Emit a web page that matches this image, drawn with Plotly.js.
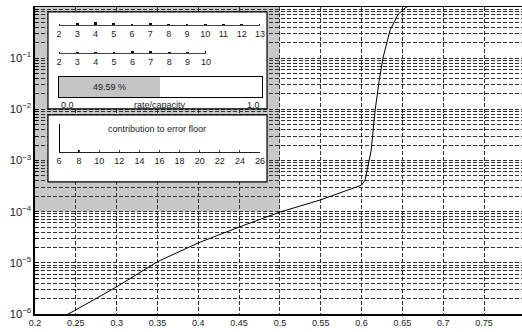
<!DOCTYPE html>
<html>
<head>
<meta charset="utf-8">
<script src="https://cdn.plot.ly/plotly-3.0.1.min.js"></script>
<style>
html,body{margin:0;padding:0;background:#fff;overflow:hidden;}
#chart{width:522px;height:332px;}
</style>
</head>
<body>
<div id="chart"></div>
<script>
// Main curve: error rate vs rate
const rate = [0.2404, 0.25, 0.3, 0.35, 0.4, 0.45, 0.5, 0.55, 0.6, 0.6044, 0.6081, 0.6118, 0.6167, 0.6216, 0.6265, 0.635, 0.6449, 0.6534, 0.66];
const errorRate = [1e-6, 1.2e-6, 3.4e-6, 1.05e-5, 2.45e-5, 5.0e-5, 9.8e-5, 1.7e-4, 3.3e-4, 4.2e-4, 8.1e-4, 1.6e-3, 9.8e-3, 3.7e-2, 0.105, 0.355, 0.72, 0.95, 1.1];

// Inset: degree distributions
const degA = [2, 3, 4, 5, 6, 7, 8, 9, 10, 11, 12, 13];
const fracA = [0.15, 0.35, 0.4, 0.25, 0.1, 0.3, 0.08, 0.1, 0.08, 0.08, 0.08, 0.08];
const degB = [2, 3, 4, 5, 6, 7, 8, 9, 10];
const fracB = [0.15, 0.15, 0.2, 0.15, 0.35, 0.35, 0.08, 0.15, 0.3];

// Inset: rate/capacity bar
const rateShare = [0.4959];
const rateShareLabel = '49.59 %';
const rateAxisLabels = ['0.0', 'rate/capacity', '1.0'];

// Inset: contribution to error floor
const floorDeg = [6, 8];
const floorContrib = [1.0, 0.06];
const floorTicks = [6, 8, 10, 12, 14, 16, 18, 20, 22, 24, 26];

// Main axis ticks
const xTicks = [0.2, 0.25, 0.3, 0.35, 0.4, 0.45, 0.5, 0.55, 0.6, 0.65, 0.7, 0.75];

const FONT = {family: 'Liberation Sans, Arial, sans-serif', size: 9, color: '#222'};
const GRID = '#333';

const traces = [
  {x: rate, y: errorRate, type: 'scatter', mode: 'lines', line: {color: '#000', width: 1}, xaxis: 'x', yaxis: 'y', hoverinfo: 'none'},
  {x: degA, y: fracA, type: 'bar', width: 0.15, marker: {color: '#111'}, xaxis: 'x2', yaxis: 'y2'},
  {x: degB, y: fracB, type: 'bar', width: 0.15, marker: {color: '#111'}, xaxis: 'x3', yaxis: 'y3'},
  {x: rateShare, y: [0], type: 'bar', orientation: 'h', width: 1, base: 0, marker: {color: '#c4c4c4', line: {width: 0}}, xaxis: 'x4', yaxis: 'y4'},
  {x: floorDeg, y: floorContrib, type: 'bar', width: 0.22, marker: {color: '#000'}, xaxis: 'x5', yaxis: 'y5'}
];

function insetX(domain, range, extra) {
  return Object.assign({domain: domain, range: range, showgrid: false, zeroline: false, showline: true,
    linecolor: '#444', linewidth: 1.5, ticks: '', tickfont: FONT, fixedrange: true}, extra || {});
}
function insetY(domain, range, anchor) {
  return {domain: domain, range: range, showgrid: false, zeroline: false, showline: false, showticklabels: false, ticks: '', anchor: anchor, fixedrange: true};
}

const layout = {
  width: 522, height: 332,
  margin: {l: 35, r: 0, t: 7, b: 18, pad: 0},
  paper_bgcolor: '#fff', plot_bgcolor: '#fff',
  showlegend: false, bargap: 0,
  font: FONT,
  xaxis: {
    range: [0.2, 0.7965], tickvals: xTicks, ticktext: xTicks.map(String),
    showgrid: true, gridcolor: GRID, griddash: '4px,2px', gridwidth: 1,
    zeroline: false, showline: true, linecolor: '#000', linewidth: 1.5, mirror: true,
    ticks: '', tickfont: FONT, anchor: 'y'
  },
  yaxis: {
    type: 'log', range: [-6, -0.002], dtick: 1, exponentformat: 'power',
    showgrid: true, gridcolor: GRID, griddash: '4px,2px', gridwidth: 1,
    zeroline: false, showline: true, linecolor: '#000', linewidth: 2,
    ticks: 'inside', ticklen: 4, tickcolor: '#000', tickfont: FONT,
    minor: {dtick: 'D1', showgrid: true, gridcolor: GRID, griddash: '4px,2px', gridwidth: 1, ticks: 'inside', ticklen: 3, tickcolor: '#000'},
    anchor: 'x'
  },
  xaxis2: insetX([0.04928, 0.4620], [2, 13], {anchor: 'y2', tickvals: degA}),
  yaxis2: insetY([0.9414, 0.9642], [0, 1], 'x2'),
  xaxis3: insetX([0.04928, 0.3511], [2, 10], {anchor: 'y3', tickvals: degB}),
  yaxis3: insetY([0.8502, 0.8730], [0, 1], 'x3'),
  xaxis4: insetX([0.04928, 0.4661], [0, 1], {anchor: 'y4', showticklabels: false, mirror: true, linecolor: '#000', linewidth: 1}),
  yaxis4: {domain: [0.7068, 0.7720], range: [-0.5, 0.5], anchor: 'x4', showgrid: false, zeroline: false, showline: true, mirror: true, linecolor: '#000', linewidth: 1, showticklabels: false, ticks: '', fixedrange: true},
  xaxis5: insetX([0.04928, 0.4620], [6, 26], {anchor: 'y5', tickvals: floorTicks, ticks: 'inside', ticklen: 2, tickcolor: '#444', linecolor: '#222', linewidth: 1.5}),
  yaxis5: insetY([0.5277, 0.6189], [0, 1], 'x5'),
  shapes: [
    {type: 'rect', xref: 'x', yref: 'y', x0: 0.2, x1: 0.5, y0: 1e-4, y1: 1, layer: 'below', fillcolor: '#c8c8c8', line: {width: 0}},
    {type: 'rect', xref: 'x', yref: 'y', x0: 0.2159, x1: 0.4842, y0: 0.01016, y1: 0.798, layer: 'between', fillcolor: '#fff', line: {color: '#000', width: 1.2}},
    {type: 'rect', xref: 'x', yref: 'y', x0: 0.2159, x1: 0.4842, y0: 3.8e-4, y1: 7.75e-3, layer: 'between', fillcolor: '#fff', line: {color: '#000', width: 1.2}}
  ],
  annotations: [
    {xref: 'x4', yref: 'y4', x: rateShare[0] / 2, y: 0, xanchor: 'center', text: rateShareLabel, showarrow: false, font: FONT},
    {xref: 'x4', yref: 'paper', x: 0, y: 0.7068, yanchor: 'top', yshift: -1, xanchor: 'left', text: rateAxisLabels[0], showarrow: false, font: FONT},
    {xref: 'x4', yref: 'paper', x: 0.5, y: 0.7068, yanchor: 'top', yshift: -1, xanchor: 'center', text: rateAxisLabels[1], showarrow: false, font: FONT},
    {xref: 'x4', yref: 'paper', x: 1, y: 0.7068, yanchor: 'top', yshift: -1, xanchor: 'right', text: rateAxisLabels[2], showarrow: false, font: FONT},
    {xref: 'paper', yref: 'paper', x: 0.2505, y: 0.6026, xanchor: 'center', yanchor: 'middle', text: 'contribution to error floor', showarrow: false, font: FONT}
  ]
};

Plotly.newPlot('chart', traces, layout, {staticPlot: true, displayModeBar: false});
</script>
</body>
</html>
